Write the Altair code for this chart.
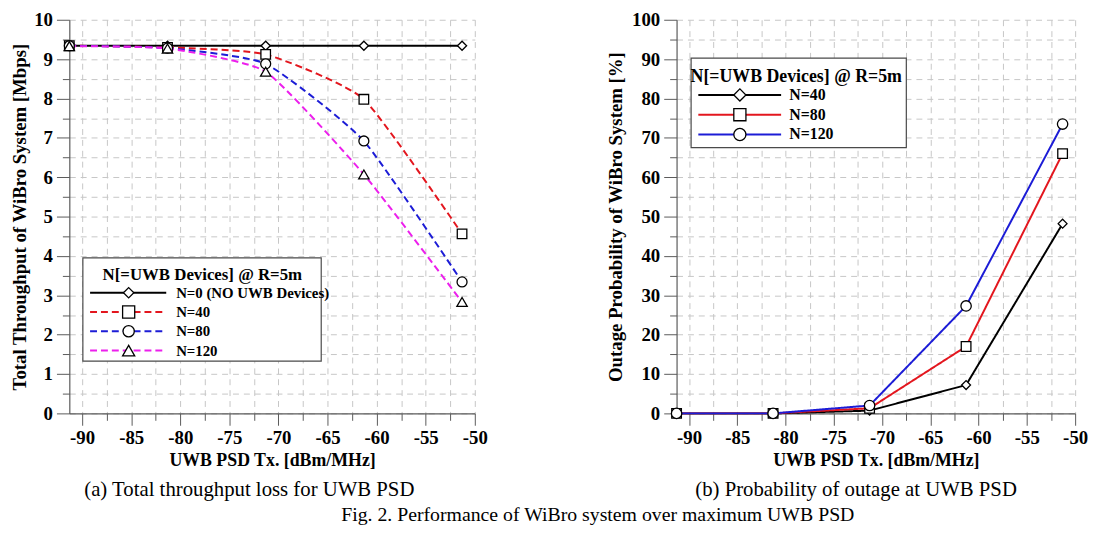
import altair as alt
import pandas as pd

# ---------------- data ----------------
psd = [-91.3, -81.3, -71.3, -61.3, -51.3]

thr_series = ["N=0 (NO UWB Devices)", "N=40", "N=80", "N=120"]
thr_n0 = [9.34, 9.34, 9.34, 9.34, 9.34]
thr_n40 = [9.34, 9.30, 9.12, 7.98, 4.56]
thr_n80 = [9.34, 9.28, 8.88, 6.92, 3.34]
thr_n120 = [9.33, 9.27, 8.68, 6.07, 2.83]

out_series = ["N=40", "N=80", "N=120"]
out_n40 = [0.0, 0.0, 0.7, 7.2, 48.2]
out_n80 = [0.0, 0.0, 1.3, 17.0, 66.0]
out_n120 = [0.0, 0.0, 2.0, 27.3, 73.5]

x_ticks = [-90, -87.5, -85, -82.5, -80, -77.5, -75, -72.5, -70, -67.5, -65,
           -62.5, -60, -57.5, -55, -52.5, -50]
y_left_ticks = [0, 0.5, 1, 1.5, 2, 2.5, 3, 3.5, 4, 4.5, 5, 5.5, 6, 6.5, 7,
                7.5, 8, 8.5, 9, 9.5, 10]
y_right_ticks = [0, 5, 10, 15, 20, 25, 30, 35, 40, 45, 50, 55, 60, 65, 70,
                 75, 80, 85, 90, 95, 100]

legend_title = "N[=UWB Devices] @ R=5m"
caption_a = "(a) Total throughput loss for UWB PSD"
caption_b = "(b) Probability of outage at UWB PSD"
fig_caption = "Fig. 2. Performance of WiBro system over maximum UWB PSD"

# ---------------- styles ----------------
SERIF = "Liberation Serif"
thr_colors = ["#000000", "#e3161e", "#1c1cd6", "#ec1fec"]
thr_dashes = [[1, 0], [7, 4], [7, 4], [7, 4]]
thr_shapes = ["diamond", "square", "circle", "triangle-up"]
thr_sizes = [85, 110, 100, 110]
thr_leg_sizes = [110, 150, 130, 150]

out_colors = ["#000000", "#e3161e", "#1c1cd6"]
out_dashes = [[1, 0], [1, 0], [1, 0]]
out_shapes = ["diamond", "square", "circle"]
out_sizes = [80, 110, 100]
out_leg_sizes = [150, 150, 150]

thr_df = pd.DataFrame({
    "psd": psd * 4,
    "value": thr_n0 + thr_n40 + thr_n80 + thr_n120,
    "series": [s for s in thr_series for _ in psd],
})
out_df = pd.DataFrame({
    "psd": psd * 3,
    "value": out_n40 + out_n80 + out_n120,
    "series": [s for s in out_series for _ in psd],
})
one = pd.DataFrame({"k": [0]})


def axis_common(**kw):
    base = dict(
        grid=True, gridDash=[6, 5], gridColor="#c6c6c6", gridWidth=1,
        domainColor="#5a5a5a", tickColor="#5a5a5a", domainWidth=1.2,
        labelFont=SERIF, labelFontWeight="bold", labelFontSize=19,
        labelColor="black", labelOverlap=False, labelFlush=False,
        titleFont=SERIF, titleFontWeight="bold", titleFontSize=19,
        titleColor="black",
    )
    base.update(kw)
    return alt.Axis(**base)


x_axis = axis_common(
    values=x_ticks, title="UWB PSD Tx. [dBm/MHz]",
    labelExpr="datum.value % 5 === 0 ? '' + datum.value : ''",
    tickSize={"condition": {"test": "datum.value % 5 === 0", "value": 12}, "value": 7},
    labelPadding=3, titlePadding=5, titleFontSize=18,
)


def legend_layers(box, title_xy, title_size, rows_y, line_x, marker_x, label_x,
                  labels, colors, dashes, shapes, sizes, label_size):
    layers = []
    layers.append(
        alt.Chart(one).mark_rect(fill="white", stroke="#4a4a4a", strokeWidth=1.2).encode(
            x=alt.value(box[0]), x2=alt.value(box[1]),
            y=alt.value(box[2]), y2=alt.value(box[3]))
    )
    layers.append(
        alt.Chart(one).mark_text(text=legend_title, font=SERIF, fontWeight="bold",
                                 fontSize=title_size, align="center", baseline="middle",
                                 color="black").encode(
            x=alt.value(title_xy[0]), y=alt.value(title_xy[1]))
    )
    for lab, col, dsh, shp, sz, yy in zip(labels, colors, dashes, shapes, sizes, rows_y):
        layers.append(
            alt.Chart(one).mark_rule(color=col, strokeWidth=2, strokeDash=dsh).encode(
                x=alt.value(line_x[0]), x2=alt.value(line_x[1]), y=alt.value(yy))
        )
        layers.append(
            alt.Chart(one).mark_point(shape=shp, size=sz, filled=True, fill="white",
                                      stroke="black", strokeWidth=1.3, opacity=1).encode(
                x=alt.value(marker_x), y=alt.value(yy))
        )
        layers.append(
            alt.Chart(one).mark_text(text=lab, font=SERIF, fontWeight="bold",
                                     fontSize=label_size, align="left", baseline="middle",
                                     color="black").encode(
                x=alt.value(label_x), y=alt.value(yy))
        )
    return layers


def panel(df, series, colors, dashes, shapes, sizes, ydomain, yaxis, interp,
          width, height, caption, cap_dx, legend):
    xenc = alt.X("psd:Q", scale=alt.Scale(domain=[-91.3, -50], nice=False, zero=False),
                 axis=x_axis)
    yenc = alt.Y("value:Q", scale=alt.Scale(domain=ydomain, nice=False, zero=False),
                 axis=yaxis)
    base = alt.Chart(df)
    lines = base.mark_line(strokeWidth=2, interpolate=interp, tension=0.5).encode(
        x=xenc, y=yenc,
        color=alt.Color("series:N", scale=alt.Scale(domain=series, range=colors), legend=None),
        strokeDash=alt.StrokeDash("series:N", scale=alt.Scale(domain=series, range=dashes),
                                  legend=None),
        detail="series:N",
    )
    pts = base.mark_point(filled=True, fill="white", stroke="black", strokeWidth=1.3,
                          opacity=1).encode(
        x=xenc, y=yenc,
        shape=alt.Shape("series:N", scale=alt.Scale(domain=series, range=shapes), legend=None),
        size=alt.Size("series:N", scale=alt.Scale(domain=series, range=sizes), legend=None),
    )
    return alt.layer(lines, pts, *legend).properties(
        width=width, height=height,
        title=alt.TitleParams(caption, orient="bottom", anchor="middle", frame="group",
                              dx=cap_dx, offset=10, font=SERIF, fontSize=21,
                              fontWeight="normal", color="black"),
    )


left_y = axis_common(
    values=y_left_ticks, title="Total Throughput of WiBro System [Mbps]",
    labelExpr="datum.value % 1 === 0 ? '' + datum.value : ''",
    tickSize={"condition": {"test": "datum.value % 1 === 0", "value": 13}, "value": 7},
    labelPadding=4, titlePadding=4,
)
right_y = axis_common(
    values=y_right_ticks, title="Outage Probability of WiBro System [%]",
    labelExpr="datum.value % 10 === 0 ? '' + datum.value : ''",
    tickSize={"condition": {"test": "datum.value % 10 === 0", "value": 13}, "value": 7},
    labelPadding=4, titlePadding=6,
)

left_legend = legend_layers(
    box=[13.7, 254.7, 240.8, 345.2], title_xy=[134.5, 258.5], title_size=17,
    rows_y=[276, 295.5, 315, 334.5], line_x=[21, 98], marker_x=60, label_x=108,
    labels=thr_series, colors=thr_colors, dashes=thr_dashes, shapes=thr_shapes,
    sizes=thr_leg_sizes, label_size=15,
)
right_legend = legend_layers(
    box=[14.7, 232.3, 38.7, 129.3], title_xy=[121, 57.7], title_size=18,
    rows_y=[76, 96, 116], line_x=[22, 105.7], marker_x=64, label_x=114,
    labels=out_series, colors=out_colors, dashes=out_dashes, shapes=out_shapes,
    sizes=out_leg_sizes, label_size=16,
)

left = panel(thr_df, thr_series, thr_colors, thr_dashes, thr_shapes, thr_sizes,
             [0, 10], left_y, "cardinal", 410, 398, caption_a, -23, left_legend)
right = panel(out_df, out_series, out_colors, out_dashes, out_shapes, out_sizes,
              [0, 100], right_y, "linear", 403, 398, caption_b, -20, right_legend)

chart = alt.hconcat(left, right, spacing=120).resolve_scale(
    color="independent", strokeDash="independent", shape="independent",
    size="independent", x="independent", y="independent",
).properties(
    padding={"left": 3, "top": 0, "right": 0, "bottom": 0},
    title=alt.TitleParams(fig_caption, orient="bottom", anchor="middle", dx=49, offset=5,
                          font=SERIF, fontSize=20, fontWeight="normal", color="black"),
).configure_view(stroke=None)

chart.save("out.html", embed_options={"renderer": "svg", "actions": False})
